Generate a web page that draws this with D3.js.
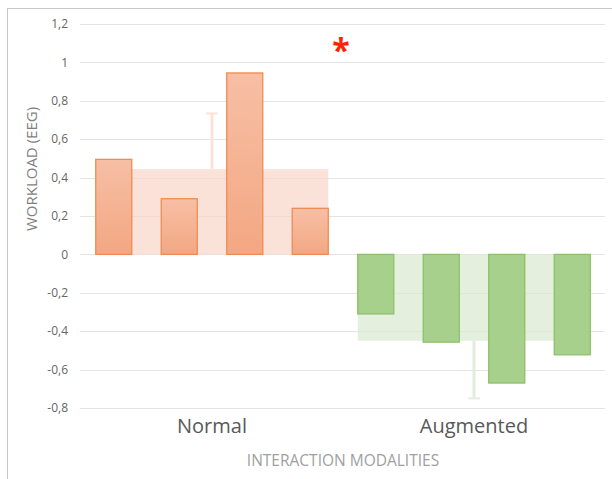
<!DOCTYPE html>
<html>
<head>
<meta charset="utf-8">
<script src="https://cdn.jsdelivr.net/npm/d3@7"></script>
<style>
  body { margin: 0; background: #fff; }
  text { font-family: "Open Sans", "Noto Sans", sans-serif; }
</style>
</head>
<body>
<div id="chart"></div>
<script>
// chart data
const groups = ["Normal", "Augmented"];
const subjects = ["S1", "S2", "S3", "S4"];
const normalValues = [0.495, 0.29, 0.945, 0.24];
const augmentedValues = [-0.31, -0.457, -0.67, -0.523];
const groupMeans = [0.444, -0.45];
const groupErrors = [0.29, 0.3];
const yTicks = [1.2, 1, 0.8, 0.6, 0.4, 0.2, 0, -0.2, -0.4, -0.6, -0.8];

const width = 612, height = 479;
const svg = d3.select("#chart").append("svg")
  .attr("width", width).attr("height", height);

// frame lines (top + left only, rest is cropped away)
svg.append("line").attr("x1", 7).attr("x2", width).attr("y1", 8.5).attr("y2", 8.5)
  .attr("stroke", "#c8c8c8").attr("stroke-width", 1);
svg.append("line").attr("x1", 7.5).attr("x2", 7.5).attr("y1", 8).attr("y2", height)
  .attr("stroke", "#c8c8c8").attr("stroke-width", 1);

const x = d3.scaleBand().domain(groups).range([81, 605]).padding(0);
const xs = d3.scaleBand().domain(subjects).range([0, x.bandwidth()]).paddingInner(0.45).paddingOuter(0.225);
const y = d3.scaleLinear().domain([-0.8, 1.2]).range([408, 24]);

const defs = svg.append("defs");
const og = defs.append("linearGradient").attr("id", "orangeGrad").attr("x1", 0).attr("x2", 0).attr("y1", 0).attr("y2", 1);
og.append("stop").attr("offset", "0%").attr("stop-color", "#f7bfa5");
og.append("stop").attr("offset", "100%").attr("stop-color", "#f3a782");

// gridlines
svg.append("g").selectAll("line").data(yTicks).join("line")
  .attr("x1", 80).attr("x2", 605)
  .attr("y1", d => Math.round(y(d)) + 0.5).attr("y2", d => Math.round(y(d)) + 0.5)
  .attr("stroke", "#e4e4e4").attr("stroke-width", 1);

// y tick labels
svg.append("g").selectAll("text").data(yTicks).join("text")
  .attr("x", 68).attr("y", d => y(d))
  .attr("dy", "0.35em")
  .attr("text-anchor", "end")
  .attr("font-size", 12)
  .attr("fill", "#666")
  .text(d => d3.format(".1~f")(d).replace(".", ",").replace("−", "-"));

const groupData = [
  { name: "Normal", values: normalValues, mean: groupMeans[0], err: groupErrors[0],
    fill: "url(#orangeGrad)", stroke: "#ef8c52", meanFill: "#f8d6c8", errFill: "#fbe3d9" },
  { name: "Augmented", values: augmentedValues, mean: groupMeans[1], err: groupErrors[1],
    fill: "#a8d08d", stroke: "#8cc069", meanFill: "#d9e9cf", errFill: "#e2eedb" }
];

groupData.forEach(g => {
  const x0 = x(g.name);
  const left = x0 + xs(subjects[0]);
  const right = x0 + xs(subjects[subjects.length - 1]) + xs.bandwidth();
  const cx = x0 + x.bandwidth() / 2;

  // error bar (drawn behind the mean)
  const eTop = y(g.mean > 0 ? g.mean + g.err : g.mean);
  const eBot = y(g.mean > 0 ? g.mean : g.mean - g.err);
  svg.append("rect").attr("x", cx - 1.5).attr("width", 3)
    .attr("y", eTop).attr("height", eBot - eTop).attr("fill", g.errFill);
  const capY = g.mean > 0 ? eTop : eBot;
  svg.append("rect").attr("x", cx - 6).attr("width", 12)
    .attr("y", capY - 1).attr("height", 2).attr("fill", g.errFill);

  // wide mean bar
  svg.append("rect")
    .attr("x", left).attr("width", right - left)
    .attr("y", Math.min(y(g.mean), y(0)))
    .attr("height", Math.abs(y(g.mean) - y(0)))
    .attr("fill", g.meanFill).attr("opacity", 0.7);

  // individual bars
  svg.append("g").selectAll("rect").data(g.values).join("rect")
    .attr("x", (d, i) => x0 + xs(subjects[i]))
    .attr("width", xs.bandwidth())
    .attr("y", d => Math.min(y(d), y(0)))
    .attr("height", d => Math.abs(y(d) - y(0)))
    .attr("fill", g.fill)
    .attr("stroke", g.stroke).attr("stroke-width", 1.3);
});

// category labels
svg.append("g").selectAll("text").data(groups).join("text")
  .attr("x", d => x(d) + x.bandwidth() / 2)
  .attr("y", 433)
  .attr("text-anchor", "middle")
  .attr("font-size", 20)
  .attr("fill", "#595959")
  .text(d => d);

// axis titles
svg.append("text")
  .attr("x", 343).attr("y", 466)
  .attr("text-anchor", "middle")
  .attr("font-size", 15.5)
  .attr("fill", "#a0a0a0")
  .text("INTERACTION MODALITIES");

svg.append("text")
  .attr("transform", "translate(37,169) rotate(-90)")
  .attr("text-anchor", "middle")
  .attr("font-size", 15)
  .attr("fill", "#7f7f7f")
  .text("WORKLOAD (EEG)");

// significance marker
svg.append("text")
  .attr("x", 341).attr("y", 62)
  .attr("text-anchor", "middle")
  .attr("font-size", 32)
  .attr("font-weight", "bold")
  .attr("fill", "#ff2200")
  .text("*");
</script>
</body>
</html>
